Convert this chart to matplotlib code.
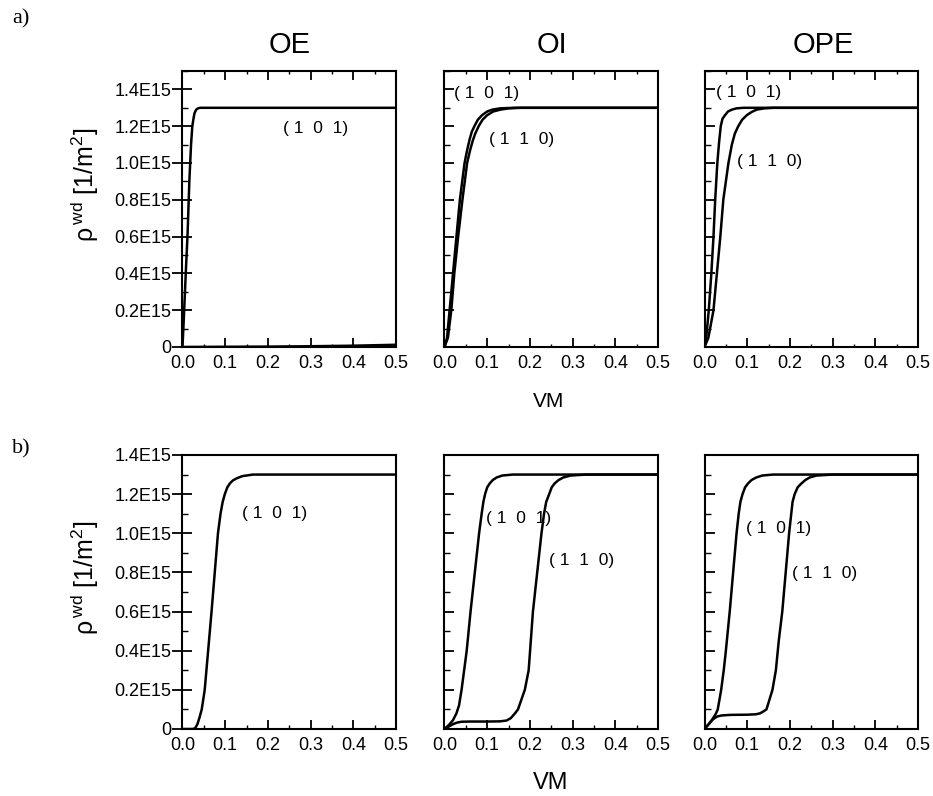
import matplotlib
matplotlib.use('Agg')
import matplotlib.pyplot as plt
from matplotlib.ticker import MultipleLocator

plt.rcParams['font.family'] = ['Liberation Sans', 'DejaVu Sans']
plt.rcParams['mathtext.fontset'] = 'custom'
plt.rcParams['mathtext.rm'] = 'Liberation Sans'
plt.rcParams['mathtext.it'] = 'Liberation Sans'

# surface density in units of 1E15 1/m^2 vs. VM
columns = ['OE', 'OI', 'OPE']
ytick_vals = [0, 0.2, 0.4, 0.6, 0.8, 1.0, 1.2, 1.4]
ytick_labels = ['0', '0.2E15', '0.4E15', '0.6E15', '0.8E15', '1.0E15', '1.2E15', '1.4E15']
xtick_vals = [0.0, 0.1, 0.2, 0.3, 0.4, 0.5]
xtick_labels = ['0.0', '0.1', '0.2', '0.3', '0.4', '0.5']

# row a)
a_oe_101_x = [0.0, 0.003, 0.008, 0.012, 0.016, 0.020, 0.023, 0.026, 0.028, 0.032, 0.037, 0.042, 0.5]
a_oe_101_y = [0.0, 0.15, 0.42, 0.62, 0.90, 1.10, 1.20, 1.245, 1.27, 1.29, 1.298, 1.30, 1.30]
a_oe_110_x = [0.0, 0.1, 0.2, 0.3, 0.4, 0.5]
a_oe_110_y = [0.0, 0.001, 0.002, 0.004, 0.007, 0.012]

a_oi_101_x = [0.0, 0.006, 0.012, 0.020, 0.028, 0.036, 0.047, 0.053, 0.059, 0.064, 0.070, 0.078, 0.088, 0.100, 0.112, 0.130, 0.163, 0.5]
a_oi_101_y = [0.0, 0.05, 0.20, 0.40, 0.60, 0.80, 1.00, 1.07, 1.13, 1.17, 1.20, 1.235, 1.26, 1.28, 1.29, 1.297, 1.30, 1.30]
a_oi_110_x = [0.0, 0.008, 0.016, 0.023, 0.032, 0.042, 0.053, 0.060, 0.066, 0.072, 0.080, 0.089, 0.100, 0.114, 0.131, 0.150, 0.178, 0.5]
a_oi_110_y = [0.0, 0.05, 0.20, 0.40, 0.60, 0.80, 1.00, 1.07, 1.12, 1.16, 1.20, 1.235, 1.26, 1.28, 1.29, 1.297, 1.30, 1.30]

a_ope_101_x = [0.0, 0.004, 0.010, 0.016, 0.021, 0.025, 0.030, 0.034, 0.038, 0.042, 0.048, 0.055, 0.064, 0.075, 0.091, 0.5]
a_ope_101_y = [0.0, 0.05, 0.20, 0.40, 0.60, 0.80, 1.00, 1.11, 1.20, 1.24, 1.26, 1.28, 1.29, 1.297, 1.30, 1.30]
a_ope_110_x = [0.0, 0.009, 0.021, 0.029, 0.037, 0.044, 0.056, 0.064, 0.071, 0.079, 0.088, 0.099, 0.110, 0.122, 0.140, 0.161, 0.5]
a_ope_110_y = [0.0, 0.05, 0.20, 0.40, 0.60, 0.80, 1.00, 1.10, 1.16, 1.20, 1.235, 1.26, 1.277, 1.29, 1.297, 1.30, 1.30]

# row b)
b_oe_101_x = [0.0, 0.025, 0.030, 0.035, 0.040, 0.045, 0.052, 0.060, 0.068, 0.0755, 0.083, 0.089, 0.094, 0.099, 0.105, 0.111, 0.118, 0.126, 0.140, 0.165, 0.5]
b_oe_101_y = [0.0, 0.0, 0.005, 0.025, 0.06, 0.10, 0.20, 0.40, 0.60, 0.80, 1.00, 1.10, 1.16, 1.20, 1.235, 1.255, 1.27, 1.28, 1.292, 1.30, 1.30]

b_oi_101_x = [0.0, 0.010, 0.020, 0.028, 0.034, 0.040, 0.052, 0.061, 0.071, 0.081, 0.087, 0.091, 0.095, 0.100, 0.106, 0.113, 0.122, 0.135, 0.160, 0.5]
b_oi_101_y = [0.0, 0.02, 0.045, 0.08, 0.12, 0.20, 0.40, 0.60, 0.80, 1.00, 1.10, 1.16, 1.20, 1.235, 1.255, 1.272, 1.285, 1.295, 1.30, 1.30]
b_oi_110_x = [0.0, 0.010, 0.020, 0.030, 0.040, 0.060, 0.100, 0.130, 0.145, 0.155, 0.165, 0.172, 0.188, 0.197, 0.207, 0.217, 0.227, 0.233, 0.238, 0.245, 0.251, 0.258, 0.267, 0.278, 0.295, 0.332, 0.5]
b_oi_110_y = [0.0, 0.012, 0.025, 0.033, 0.037, 0.038, 0.038, 0.039, 0.043, 0.055, 0.080, 0.10, 0.20, 0.30, 0.60, 0.80, 1.00, 1.10, 1.16, 1.20, 1.235, 1.255, 1.272, 1.285, 1.295, 1.30, 1.30]

b_ope_101_x = [0.0, 0.010, 0.020, 0.027, 0.031, 0.039, 0.045, 0.050, 0.059, 0.067, 0.075, 0.080, 0.084, 0.089, 0.095, 0.102, 0.110, 0.121, 0.135, 0.160, 0.5]
b_ope_101_y = [0.0, 0.025, 0.055, 0.08, 0.10, 0.20, 0.30, 0.40, 0.60, 0.80, 1.00, 1.10, 1.16, 1.20, 1.235, 1.255, 1.272, 1.285, 1.295, 1.30, 1.30]
b_ope_110_x = [0.0, 0.010, 0.020, 0.030, 0.040, 0.060, 0.100, 0.120, 0.130, 0.138, 0.145, 0.159, 0.167, 0.174, 0.182, 0.190, 0.198, 0.203, 0.206, 0.211, 0.218, 0.227, 0.236, 0.246, 0.262, 0.300, 0.5]
b_ope_110_y = [0.0, 0.025, 0.050, 0.064, 0.069, 0.072, 0.073, 0.075, 0.080, 0.090, 0.10, 0.20, 0.30, 0.455, 0.60, 0.80, 1.00, 1.10, 1.16, 1.20, 1.235, 1.255, 1.272, 1.285, 1.295, 1.30, 1.30]

rows = {
    'a': [
        [(a_oe_101_x, a_oe_101_y), (a_oe_110_x, a_oe_110_y)],
        [(a_oi_101_x, a_oi_101_y), (a_oi_110_x, a_oi_110_y)],
        [(a_ope_101_x, a_ope_101_y), (a_ope_110_x, a_ope_110_y)],
    ],
    'b': [
        [(b_oe_101_x, b_oe_101_y)],
        [(b_oi_101_x, b_oi_101_y), (b_oi_110_x, b_oi_110_y)],
        [(b_ope_101_x, b_ope_101_y), (b_ope_110_x, b_ope_110_y)],
    ],
}

# curve labels (text, x, y) per panel
labels = {
    'a': [
        [('( 1  0  1)', 0.236, 1.19)],
        [('( 1  0  1)', 0.022, 1.38), ('( 1  1  0)', 0.104, 1.13)],
        [('( 1  0  1)', 0.028, 1.385), ('( 1  1  0)', 0.076, 1.01)],
    ],
    'b': [
        [('( 1  0  1)', 0.140, 1.10)],
        [('( 1  0  1)', 0.096, 1.075), ('( 1  1  0)', 0.245, 0.86)],
        [('( 1  0  1)', 0.097, 1.025), ('( 1  1  0)', 0.205, 0.795)],
    ],
}

ylims = {'a': 1.5, 'b': 1.4}

fig = plt.figure(figsize=(9.33, 7.96), dpi=100)

lefts = [0.1956, 0.4764, 0.7551]
width = 0.2290
bottoms = {'a': 0.5641, 'b': 0.0842}
height = {'a': 0.3467, 'b': 0.3442}
ylabel_y = {'a': 0.768, 'b': 0.274}

for row in ['a', 'b']:
    for i in range(3):
        ax = fig.add_axes([lefts[i], bottoms[row], width, height[row]])
        for xs, ys in rows[row][i]:
            ax.plot(xs, ys, color='black', linewidth=1.8)
        for txt, tx, ty in labels[row][i]:
            ax.text(tx, ty, txt, fontsize=12.5, ha='left', va='center')
        ax.set_xlim(0, 0.5)
        ax.set_ylim(0, ylims[row])
        for sp in ax.spines.values():
            sp.set_linewidth(1.5)
        ax.set_xticks(xtick_vals)
        ax.set_xticklabels(xtick_labels, fontsize=13)
        ax.xaxis.set_minor_locator(MultipleLocator(0.05))
        ax.set_yticks(ytick_vals)
        ax.yaxis.set_minor_locator(MultipleLocator(0.1))
        ax.tick_params(axis='x', which='major', direction='in', length=6.5, width=1.3, pad=6)
        ax.tick_params(axis='x', which='minor', direction='in', length=3, width=1.0)
        if row == 'a':
            ax.tick_params(axis='x', which='major', top=True, length=6.5)
            ax.tick_params(axis='x', which='minor', top=True, length=2)
        if i == 0:
            ax.set_yticklabels(ytick_labels, fontsize=13)
            ax.tick_params(axis='y', which='major', direction='inout', length=14, width=1.3, pad=1)
        else:
            ax.set_yticklabels([])
            ax.tick_params(axis='y', which='major', direction='in', length=7, width=1.3)
        ax.tick_params(axis='y', which='minor', direction='in', length=4, width=1.0)
    fig.text(0.091, ylabel_y[row], r'$\rho^{\,\mathrm{wd}}$ [1/m$^2$]', fontsize=18,
             rotation=90, ha='center', va='center')

# column titles and axis captions
title_x = [0.311, 0.592, 0.883]
for i, name in enumerate(columns):
    fig.text(title_x[i], 0.943, name, fontsize=21, ha='center', va='center')
fig.text(0.588, 0.495, 'VM', fontsize=15, ha='center', va='center')
fig.text(0.590, 0.016, 'VM', fontsize=17, ha='center', va='center')
fig.text(0.013, 0.976, 'a)', fontsize=16, family='Liberation Serif', ha='left', va='center')
fig.text(0.013, 0.436, 'b)', fontsize=16, family='Liberation Serif', ha='left', va='center')

fig.savefig('out.png', dpi=100)
